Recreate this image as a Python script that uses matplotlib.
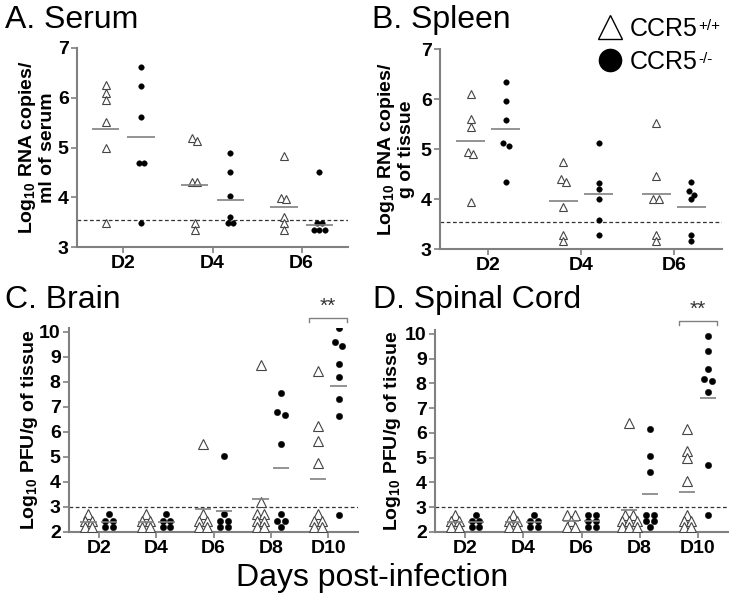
import numpy as np
import matplotlib
matplotlib.use('Agg')
from matplotlib import pyplot as plt
from matplotlib.lines import Line2D

plt.rcParams['font.family'] = ['Liberation Sans', 'DejaVu Sans']
plt.rcParams['mathtext.fontset'] = 'custom'
plt.rcParams['mathtext.rm'] = 'Liberation Sans'
plt.rcParams['mathtext.bf'] = 'Liberation Sans:bold'

days_top = ['D2', 'D4', 'D6']
days_bottom = ['D2', 'D4', 'D6', 'D8', 'D10']

# A. Serum (log10 RNA copies / ml)
serum_wt = [[6.26, 6.09, 5.96, 5.52, 5.00, 3.48],
            [5.20, 5.14, 4.31, 4.31, 3.48, 3.35],
            [4.82, 3.99, 3.97, 3.61, 3.48, 3.35]]
serum_ko = [[6.61, 6.24, 5.61, 4.69, 4.69, 3.48],
            [4.88, 4.50, 4.02, 3.60, 3.48, 3.48],
            [4.50, 3.48, 3.48, 3.35, 3.35, 3.35]]
serum_wt_mean = [5.37, 4.24, 3.81]
serum_ko_mean = [5.21, 3.94, 3.45]

# B. Spleen (log10 RNA copies / g)
spleen_wt = [[6.11, 5.60, 5.45, 4.95, 4.91, 3.95],
             [4.73, 4.40, 4.35, 3.84, 3.29, 3.17],
             [5.52, 4.47, 4.01, 4.01, 3.29, 3.17]]
spleen_ko = [[6.35, 5.97, 5.59, 5.12, 5.07, 4.35],
             [5.12, 4.33, 4.20, 4.01, 3.59, 3.29],
             [4.35, 4.17, 4.09, 4.01, 3.29, 3.17]]
spleen_wt_mean = [5.17, 3.97, 4.10]
spleen_ko_mean = [5.41, 4.10, 3.85]

# C. Brain (log10 PFU / g)
brain_wt = [[2.7, 2.45, 2.45, 2.2, 2.2],
            [2.7, 2.45, 2.45, 2.2, 2.2],
            [5.51, 2.7, 2.45, 2.45, 2.2, 2.2],
            [8.67, 3.2, 2.7, 2.7, 2.45, 2.45, 2.2, 2.2],
            [8.45, 6.25, 5.65, 4.74, 2.7, 2.45, 2.45, 2.2, 2.2]]
brain_ko = [[2.7, 2.45, 2.45, 2.2, 2.2],
            [2.7, 2.45, 2.45, 2.2, 2.2],
            [5.02, 2.7, 2.45, 2.45, 2.2, 2.2],
            [7.57, 6.81, 6.68, 5.51, 2.7, 2.45, 2.45, 2.2],
            [10.16, 9.60, 9.44, 8.70, 8.18, 7.32, 6.64, 2.68]]
brain_wt_mean = [2.4, 2.4, 2.92, 3.32, 4.13]
brain_ko_mean = [2.4, 2.4, 2.84, 4.54, 7.83]

# D. Spinal cord (log10 PFU / g)
cord_wt = [[2.7, 2.45, 2.45, 2.2, 2.2],
           [2.7, 2.45, 2.45, 2.2, 2.2],
           [2.7, 2.7, 2.45, 2.2, 2.2],
           [6.38, 2.7, 2.7, 2.45, 2.45, 2.45, 2.2, 2.2, 2.2],
           [6.15, 5.27, 4.97, 4.05, 2.7, 2.45, 2.45, 2.2, 2.2]]
cord_ko = [[2.7, 2.45, 2.45, 2.2, 2.2],
           [2.7, 2.45, 2.45, 2.2, 2.2],
           [2.7, 2.7, 2.45, 2.45, 2.2, 2.2],
           [6.14, 5.07, 4.41, 2.7, 2.7, 2.45, 2.45, 2.2],
           [9.91, 9.30, 8.57, 8.19, 8.08, 7.65, 4.71, 2.68]]
cord_wt_mean = [2.4, 2.4, 2.45, 2.9, 3.61]
cord_ko_mean = [2.4, 2.4, 2.45, 3.53, 7.39]

GREY = '#808080'


def swarm(vals, center, dx, thr):
    # spread points of (nearly) equal value side by side
    vals = sorted(vals, reverse=True)
    xs, ys = [], []
    i = 0
    while i < len(vals):
        j = i
        while j + 1 < len(vals) and vals[i] - vals[j + 1] < thr:
            j += 1
        k = j - i + 1
        for n in range(k):
            xs.append(center + (n - (k - 1) / 2) * dx)
            ys.append(vals[i + n])
        i = j + 1
    return xs, ys


def draw_panel(ax, wt, ko, wt_mean, ko_mean, days, ylim, yticks, lod,
               off, dx, thr, tri_ms, dot_ms, mean_half):
    pos = np.arange(1, len(days) + 1)
    for i, p in enumerate(pos):
        x, y = swarm(wt[i], p - off, dx, thr)
        ax.plot(x, y, ls='none', marker='^', ms=tri_ms, mfc='white',
                mec='#444444', mew=0.8, zorder=3)
        x, y = swarm(ko[i], p + off, dx, thr)
        ax.plot(x, y, ls='none', marker='o', ms=dot_ms, mfc='black',
                mec='black', mew=0.3, zorder=3)
        ax.hlines(wt_mean[i], p - off - mean_half, p - off + mean_half,
                  color=GREY, lw=1.2, zorder=4)
        ax.hlines(ko_mean[i], p + off - mean_half, p + off + mean_half,
                  color=GREY, lw=1.2, zorder=4)
    ax.axhline(lod, color='#333333', lw=0.9, ls=(0, (3, 2)), zorder=2)
    ax.set_xlim(0.48, len(days) + 0.52)
    ax.set_ylim(*ylim)
    ax.set_yticks(yticks)
    ax.set_xticks(pos)
    ax.set_xticklabels(days)
    for s in ['top', 'right']:
        ax.spines[s].set_visible(False)
    for s in ['left', 'bottom']:
        ax.spines[s].set_color(GREY)
        ax.spines[s].set_linewidth(1.5)
    ax.tick_params(axis='both', color=GREY, width=1.2, length=4,
                   labelsize=14, pad=2)
    for lab in ax.get_xticklabels() + ax.get_yticklabels():
        lab.set_fontweight('bold')


def bracket(ax, x, y, half=0.33, drop=0.15):
    ax.plot([x - half, x - half, x + half, x + half],
            [y - drop, y, y, y - drop], color=GREY, lw=1, clip_on=False)
    ax.text(x, y + 0.1, '**', ha='center', va='bottom', fontsize=15,
            color='#333333', clip_on=False)


fig = plt.figure(figsize=(7.45, 6.03), dpi=100)
W, H = 745, 603


def axes_px(left, right, top, bottom):
    return fig.add_axes([left / W, 1 - bottom / H, (right - left) / W,
                         (bottom - top) / H])


ax_a = axes_px(77, 348, 48, 247)
ax_b = axes_px(440, 722, 49, 249)
ax_c = axes_px(69, 358, 328, 532)
ax_d = axes_px(435, 728, 330, 532)

draw_panel(ax_a, serum_wt, serum_ko, serum_wt_mean, serum_ko_mean, days_top,
           (3, 7), [3, 4, 5, 6, 7], 3.55, 0.2, 0.06, 0.1, 5.5, 4.0, 0.155)
draw_panel(ax_b, spleen_wt, spleen_ko, spleen_wt_mean, spleen_ko_mean,
           days_top, (3, 7), [3, 4, 5, 6, 7], 3.55, 0.19, 0.06, 0.1, 5.5,
           4.0, 0.155)
draw_panel(ax_c, brain_wt, brain_ko, brain_wt_mean, brain_ko_mean,
           days_bottom, (2, 10.15), range(2, 11), 3.0, 0.18, 0.13, 0.2,
           6.5, 4.6, 0.14)
draw_panel(ax_d, cord_wt, cord_ko, cord_wt_mean, cord_ko_mean, days_bottom,
           (2, 10.15), range(2, 11), 3.0, 0.18, 0.13, 0.2, 6.5, 4.6, 0.14)

bracket(ax_c, 5, 10.55)
bracket(ax_d, 5, 10.52)

ax_a.set_ylabel('Log$_{\\mathbf{10}}$ RNA copies/\nml of serum',
                fontsize=14, fontweight='bold', linespacing=1.05)
ax_b.set_ylabel('Log$_{\\mathbf{10}}$ RNA copies/\ng of tissue',
                fontsize=14, fontweight='bold', linespacing=1.05)
ax_c.set_ylabel('Log$_{\\mathbf{10}}$ PFU/g of tissue', fontsize=14,
                fontweight='bold')
ax_d.set_ylabel('Log$_{\\mathbf{10}}$ PFU/g of tissue', fontsize=14,
                fontweight='bold')
ax_a.yaxis.set_label_coords(-0.078, 0.5)
ax_b.yaxis.set_label_coords(-0.09, 0.5)
ax_c.yaxis.set_label_coords(-0.10, 0.5)
ax_d.yaxis.set_label_coords(-0.11, 0.5)

fig.text(5 / W, 1 - 20 / H, 'A. Serum', fontsize=23, va='center', ha='left')
fig.text(372 / W, 1 - 20 / H, 'B. Spleen', fontsize=23, va='center',
         ha='left')
fig.text(5 / W, 1 - 300 / H, 'C. Brain', fontsize=23, va='center', ha='left')
fig.text(373 / W, 1 - 300 / H, 'D. Spinal Cord', fontsize=23, va='center',
         ha='left')
fig.text(372 / W, 1 - 578 / H, 'Days post-infection', fontsize=23,
         va='center', ha='center')

# legend: marker + "CCR5" with a superscript genotype placed after the text
handles = [Line2D([], [], ls='none', marker='^', ms=17, mfc='white',
                  mec='black', mew=1.0),
           Line2D([], [], ls='none', marker='o', ms=16, mfc='black',
                  mec='black')]
genotypes = ['+/+', '-/-']
leg = fig.legend(handles, ['CCR5', 'CCR5'], loc='upper left',
                 bbox_to_anchor=(597 / W, 1 - 17 / H), frameon=False,
                 fontsize=18, handlelength=1.0, handletextpad=0.3,
                 labelspacing=0.35, borderaxespad=0, borderpad=0)
fig.canvas.draw()
renderer = fig.canvas.get_renderer()
for txt, g in zip(leg.get_texts(), genotypes):
    bb = txt.get_window_extent(renderer).transformed(fig.transFigure.inverted())
    fig.text(bb.x1 + 0.001, bb.y1 - 0.004, g, fontsize=11, ha='left',
             va='top')

fig.savefig('out.png', dpi=100)
